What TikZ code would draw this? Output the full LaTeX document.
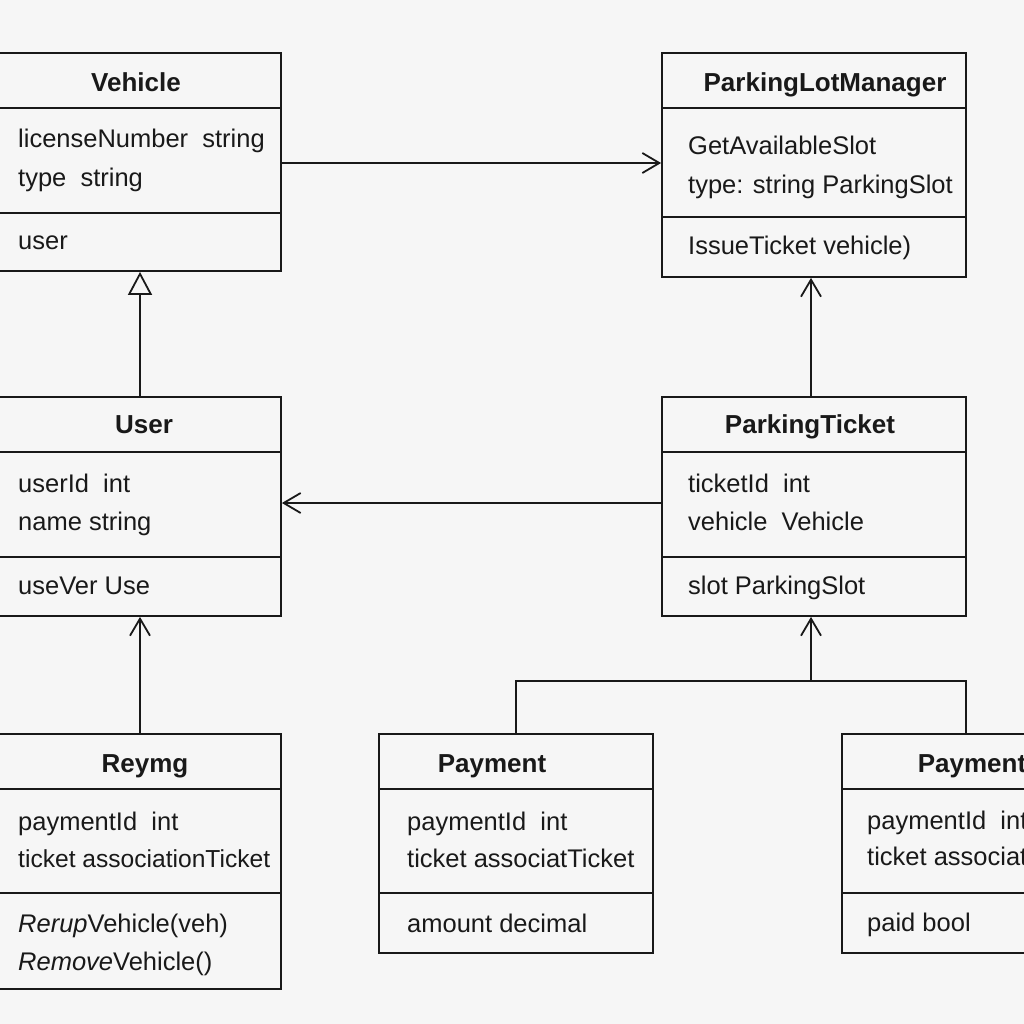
\documentclass[tikz,border=0pt]{standalone}
\usepackage{fontspec}
\setmainfont{Liberation Sans}
\usetikzlibrary{arrows.meta, positioning, calc}
\definecolor{paper}{RGB}{246,246,246}
\definecolor{ink}{RGB}{25,25,25}
\tikzset{
    classbox/.style={draw=ink, line width=1.8pt, rectangle, inner sep=0pt},
    classline/.style={draw=ink, line width=1.8pt},
    classname/.style={anchor=base, inner sep=0pt, text=ink, font=\fontsize{26}{30}\selectfont\bfseries},
    member/.style={anchor=base west, inner sep=0pt, text=ink, font=\fontsize{25.5}{30}\selectfont},
    assoc/.style={draw=ink, line width=1.8pt, -{Straight Barb[length=17pt, width=20pt, line width=1.8pt]}},
    inherit/.style={draw=ink, line width=1.8pt, -{Triangle[open, length=23pt, width=24pt, line width=1.8pt, fill=paper]}},
}

\begin{document}
\begin{tikzpicture}[x=1pt, y=-1pt]
    \fill[paper] (0,0) rectangle (1024,1024);
    \useasboundingbox (0,0) rectangle (1024,1024);
    \clip (0,0) rectangle (1024,1024);
    % Vehicle
    \node[classbox, minimum width=282pt, minimum height=218pt] (vehicle) at (140,162) {};
    \draw[classline] (vehicle.west |- 0,108) -- (vehicle.east |- 0,108);
    \draw[classline] (vehicle.west |- 0,213) -- (vehicle.east |- 0,213);
    \node[classname] (vehicleN) at (136,92) {Vehicle};
    \node[member] (vehicleA1) at (18,148) {licenseNumber\ \ string};
    \node[member] (vehicleA2) at (18,187) {type\ \ string};
    \node[member] (vehicleM1) at (18,249) {user};
    % ParkingLotManager
    \node[classbox, minimum width=304pt, minimum height=224pt] (plm) at (814,165) {};
    \draw[classline] (plm.west |- 0,108) -- (plm.east |- 0,108);
    \draw[classline] (plm.west |- 0,217) -- (plm.east |- 0,217);
    \node[classname] (plmN) at (825,92) {ParkingLotManager};
    \node[member] (plmA1) at (688,155) {GetAvailableSlot};
    \node[member] (plmA2) at (688,194) {type: string ParkingSlot};
    \node[member] (plmM1) at (688,254) {IssueTicket vehicle)};
    % User
    \node[classbox, minimum width=282pt, minimum height=219pt] (user) at (140,506.5) {};
    \draw[classline] (user.west |- 0,452) -- (user.east |- 0,452);
    \draw[classline] (user.west |- 0,557) -- (user.east |- 0,557);
    \node[classname] (userN) at (144,433) {User};
    \node[member] (userA1) at (18,492) {userId\ \ int};
    \node[member] (userA2) at (18,530) {name string};
    \node[member] (userM1) at (18,594) {useVer Use};
    % ParkingTicket
    \node[classbox, minimum width=304pt, minimum height=219pt] (pt) at (814,506.5) {};
    \draw[classline] (pt.west |- 0,452) -- (pt.east |- 0,452);
    \draw[classline] (pt.west |- 0,557) -- (pt.east |- 0,557);
    \node[classname] (ptN) at (810,433) {ParkingTicket};
    \node[member] (ptA1) at (688,492) {ticketId\ \ int};
    \node[member] (ptA2) at (688,530) {vehicle\ \ Vehicle};
    \node[member] (ptM1) at (688,594) {slot ParkingSlot};
    % Reymg
    \node[classbox, minimum width=282pt, minimum height=255pt] (reymg) at (140,861.5) {};
    \draw[classline] (reymg.west |- 0,789) -- (reymg.east |- 0,789);
    \draw[classline] (reymg.west |- 0,893) -- (reymg.east |- 0,893);
    \node[classname] (reymgN) at (145,772) {Reymg};
    \node[member] (reymgA1) at (18,830) {paymentId\ \ int};
    \node[member, font=\fontsize{24.6}{30}\selectfont] (reymgA2) at (18,867) {ticket associationTicket};
    \node[member] (reymgM1) at (18,932) {\textit{Rerup}Vehicle(veh)};
    \node[member] (reymgM2) at (18,970) {\textit{Remove}Vehicle()};
    % Payment (middle)
    \node[classbox, minimum width=274pt, minimum height=219pt] (pay1) at (516,843.5) {};
    \draw[classline] (pay1.west |- 0,789) -- (pay1.east |- 0,789);
    \draw[classline] (pay1.west |- 0,893) -- (pay1.east |- 0,893);
    \node[classname] (pay1N) at (492,772) {Payment};
    \node[member] (pay1A1) at (407,830) {paymentId\ \ int};
    \node[member] (pay1A2) at (407,867) {ticket associatTicket};
    \node[member] (pay1M1) at (407,932) {amount decimal};
    % Payment (right)
    \node[classbox, minimum width=248pt, minimum height=219pt] (pay2) at (966,843.5) {};
    \draw[classline] (pay2.west |- 0,789) -- (pay2.east |- 0,789);
    \draw[classline] (pay2.west |- 0,893) -- (pay2.east |- 0,893);
    \node[classname] (pay2N) at (972,772) {Payment};
    \node[member] (pay2A1) at (867,829) {paymentId\ \ int};
    \node[member] (pay2A2) at (867,865) {ticket associatTicket};
    \node[member] (pay2M1) at (867,931) {paid bool};
    % connectors
    \draw[assoc] ([yshift=-1pt]vehicle.east) -- ([yshift=-1pt]vehicle.east -| plm.west);
    \draw[inherit] (user.north) -- (vehicle.south);
    \draw[assoc] ([xshift=-3pt]pt.north) -- ([xshift=-3pt]plm.south);
    \draw[assoc] ([yshift=3.5pt]pt.west) -- ([yshift=3.5pt]user.east);
    \draw[assoc] (reymg.north) -- (user.south);
    \coordinate (bus) at (811,681);
    \draw[classline] (pay1.north) |- (bus) -| (pay2.north);
    \draw[assoc] (bus) -- (bus |- pt.south);
\end{tikzpicture}
\end{document}
